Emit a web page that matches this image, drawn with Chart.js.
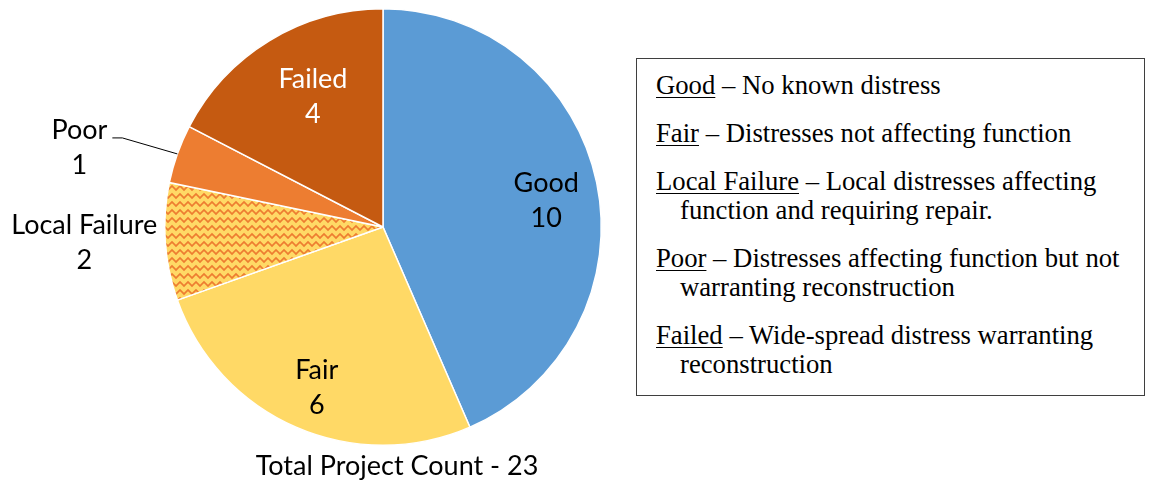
<!DOCTYPE html>
<html>
<head>
<meta charset="utf-8">
<script src="https://cdn.jsdelivr.net/npm/chart.js@4/dist/chart.umd.min.js"></script>
<style>
  html, body { margin: 0; padding: 0; background: #fff; }
  #wrap { position: relative; width: 1159px; height: 480px; overflow: hidden; }
  #c { position: absolute; left: 0; top: 0; }
  #legendBox {
    position: absolute; left: 636px; top: 58px; width: 507px; height: 336px;
    border: 1px solid #3f3f3f; background: #fff;
    font-family: "Liberation Serif", "Times New Roman", serif; font-size: 26.7px; color: #000;
  }
  #legendBox p { margin: 0 0 19px 0; line-height: 29px; padding-left: 43px; text-indent: -24px; white-space: nowrap; }
  #legendBox p:first-child { margin-top: 12px; }
  #legendBox u { text-decoration: underline; text-underline-offset: 3px; text-decoration-thickness: 1px; }
</style>
</head>
<body>
<div id="wrap">
  <canvas id="c" width="1159" height="480"></canvas>
  <div id="legendBox"></div>
</div>
<script>
// ---- data ----
const categories = ["Good", "Fair", "Local Failure", "Poor", "Failed"];
const projectCounts = [10, 6, 2, 1, 4];
const totalLabel = "Total Project Count - 23";
const legendTerms = ["Good", "Fair", "Local Failure", "Poor", "Failed"];
const legendDescriptions = [
  ["No known distress"],
  ["Distresses not affecting function"],
  ["Local distresses affecting", "function and requiring repair."],
  ["Distresses affecting function but not", "warranting reconstruction"],
  ["Wide-spread distress warranting", "reconstruction"]
];

// ---- styles ----
const sliceColors = ["#5B9BD5", "#FFD966", null, "#ED7D31", "#C55A11"];
function makeZigzag() {
  const p = document.createElement("canvas");
  p.width = 8; p.height = 8;
  const g = p.getContext("2d");
  g.fillStyle = "#FFD966"; g.fillRect(0, 0, 8, 8);
  g.strokeStyle = "#ED7D31"; g.lineWidth = 1.6;
  g.beginPath();
  g.moveTo(-2, 4); g.lineTo(0, 6); g.lineTo(4, 2); g.lineTo(8, 6); g.lineTo(10, 4);
  g.stroke();
  return document.getElementById("c").getContext("2d").createPattern(p, "repeat");
}
sliceColors[2] = makeZigzag();

const labelFont = '27px Lato, "Open Sans", sans-serif';
const labelLineGap = 35;
// per-slice label placement (style only)
const labelStyles = [
  { mode: "inside", rFrac: 0.75, dx: 3, dy: 7, color: "#000" },
  { mode: "inside", rFrac: 0.75, dx: -1, dy: 11, color: "#000" },
  { mode: "left", gap: 8, dy: 1, color: "#000" },
  { mode: "leader", elbowDx: -55, elbowDy: -16, tailDx: -65, textDx: -98, textDy: -6, color: "#000" },
  { mode: "inside", rFrac: 0.75, dx: 15, dy: 10, color: "#fff" }
];

// ---- legend box (HTML text) ----
const lb = document.getElementById("legendBox");
legendTerms.forEach((t, i) => {
  const p = document.createElement("p");
  const u = document.createElement("u");
  u.textContent = t;
  p.appendChild(u);
  const d = legendDescriptions[i];
  p.appendChild(document.createTextNode(" \u2013 " + d[0]));
  for (let k = 1; k < d.length; k++) {
    p.appendChild(document.createElement("br"));
    p.appendChild(document.createTextNode(d[k]));
  }
  lb.appendChild(p);
});

// ---- label plugin ----
const pieLabels = {
  id: "pieLabels",
  afterDatasetsDraw(chart) {
    const ctx = chart.ctx;
    const meta = chart.getDatasetMeta(0);
    const data = chart.data.datasets[0].data;
    ctx.save();
    ctx.font = labelFont;
    ctx.textBaseline = "middle";
    let cx = 0, cy = 0, R = 0;
    meta.data.forEach((arc, i) => {
      const st = labelStyles[i];
      cx = arc.x; cy = arc.y; R = arc.outerRadius;
      const mid = (arc.startAngle + arc.endAngle) / 2;
      const lines = [chart.data.labels[i], String(data[i])];
      ctx.fillStyle = st.color;
      if (st.mode === "inside") {
        const x = cx + Math.cos(mid) * R * st.rFrac + st.dx;
        const y = cy + Math.sin(mid) * R * st.rFrac + st.dy;
        ctx.textAlign = "center";
        ctx.fillText(lines[0], x, y - labelLineGap / 2);
        ctx.fillText(lines[1], x, y + labelLineGap / 2);
      } else if (st.mode === "left") {
        const ex = cx + Math.cos(mid) * R;
        const ey = cy + Math.sin(mid) * R;
        const w = ctx.measureText(lines[0]).width;
        const x = ex - st.gap - w / 2;
        const y = ey + st.dy;
        ctx.textAlign = "center";
        ctx.fillText(lines[0], x, y - labelLineGap / 2);
        ctx.fillText(lines[1], x, y + labelLineGap / 2);
      } else if (st.mode === "leader") {
        const ex = cx + Math.cos(mid) * R;
        const ey = cy + Math.sin(mid) * R;
        ctx.strokeStyle = "#000";
        ctx.lineWidth = 1;
        ctx.beginPath();
        ctx.moveTo(ex, ey);
        ctx.lineTo(ex + st.elbowDx, ey + st.elbowDy);
        ctx.lineTo(ex + st.tailDx, ey + st.elbowDy);
        ctx.stroke();
        const x = ex + st.textDx, y = ey + st.textDy;
        ctx.textAlign = "center";
        ctx.fillText(lines[0], x, y - labelLineGap / 2);
        ctx.fillText(lines[1], x, y + labelLineGap / 2);
      }
    });
    ctx.fillStyle = "#000";
    ctx.textAlign = "center";
    ctx.fillText(totalLabel, cx + 14, cy + R + 21);
    ctx.restore();
  }
};

new Chart(document.getElementById("c"), {
  type: "pie",
  data: {
    labels: categories,
    datasets: [{
      data: projectCounts,
      backgroundColor: sliceColors,
      borderColor: "#ffffff",
      borderWidth: 1.5
    }]
  },
  options: {
    responsive: false,
    animation: false,
    devicePixelRatio: 1,
    layout: { padding: { left: 164, right: 557, top: 8, bottom: 34 } },
    plugins: { legend: { display: false }, tooltip: { enabled: false }, title: { display: false } }
  },
  plugins: [pieLabels]
});
</script>
</body>
</html>
